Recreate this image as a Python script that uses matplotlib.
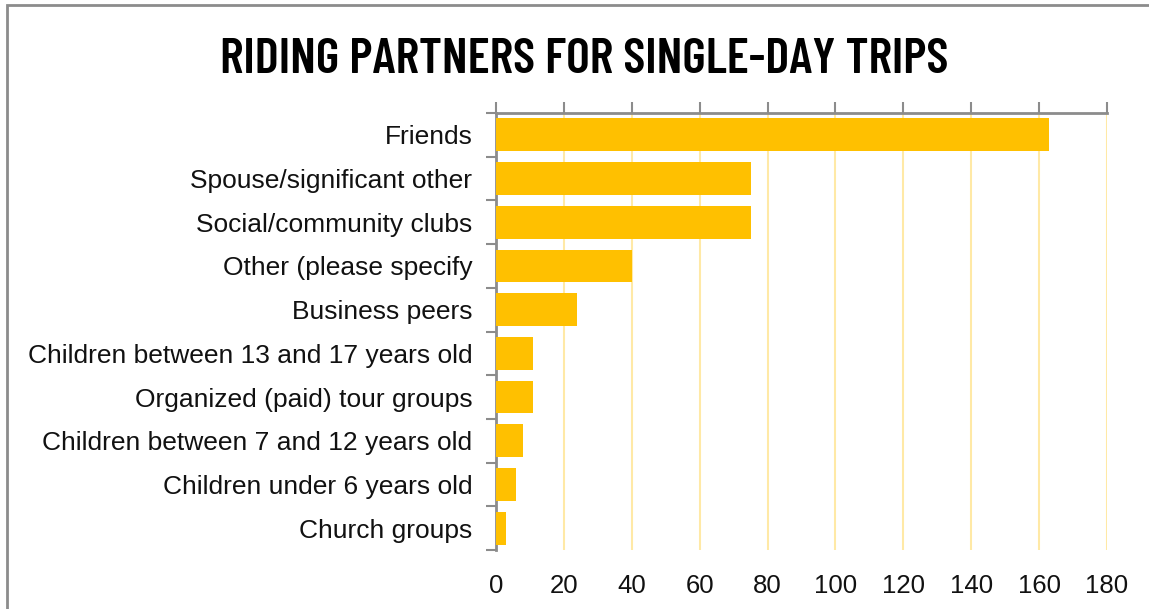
import matplotlib
matplotlib.use("Agg")
import matplotlib.pyplot as plt
from matplotlib import font_manager
from matplotlib.patches import Rectangle

categories = [
    "Friends",
    "Spouse/significant other",
    "Social/community clubs",
    "Other (please specify",
    "Business peers",
    "Children between 13 and 17 years old",
    "Organized (paid) tour groups",
    "Children between 7 and 12 years old",
    "Children under 6 years old",
    "Church groups",
]
counts = [163, 75, 75, 40, 24, 11, 11, 8, 6, 3]
x_ticks = [0, 20, 40, 60, 80, 100, 120, 140, 160, 180]
title = "RIDING PARTNERS FOR SINGLE-DAY TRIPS"

installed = {f.name for f in font_manager.fontManager.ttflist}


def pick(*names):
    for name in names:
        if name in installed:
            return name
    return "DejaVu Sans"


body_font = pick("Liberation Sans", "Arimo", "DejaVu Sans")
title_font = pick("Barlow Condensed", "PT Sans Narrow", "Roboto Condensed", "DejaVu Sans")

W, H = 1149, 609
fig = plt.figure(figsize=(W / 100, H / 100), dpi=100)
fig.patch.set_facecolor("white")

# outer frame
fig.add_artist(Rectangle((7 / W, -0.05), 1.2, (H - 5) / H + 0.05,
                         transform=fig.transFigure, fill=False,
                         edgecolor="#8c8c8c", linewidth=2))

left, right, top, bottom = 496, 1107, 113, 550
ax = fig.add_axes([left / W, 1 - bottom / H, (right - left) / W, (bottom - top) / H])

n = len(categories)
ypos = list(range(n))
ax.barh(ypos, counts, height=0.75, color="#FFC000", zorder=3)
ax.set_ylim(n - 0.5, -0.5)
ax.set_xlim(0, 180)

ax.set_xticks(x_ticks)
ax.set_xticklabels([str(t) for t in x_ticks], fontsize=18.5, family=body_font,
                   color="#111111")
ax.tick_params(axis="x", which="major", top=True, bottom=False,
               labeltop=False, labelbottom=True, direction="out",
               length=8, width=1.5, color="#8c8c8c", pad=9)

ax.set_yticks(ypos)
ax.set_yticklabels(categories, fontsize=19, family=body_font, color="#111111")
ax.set_yticks([i - 0.5 for i in range(n + 1)], minor=True)
ax.tick_params(axis="y", which="major", length=0, pad=17)
ax.tick_params(axis="y", which="minor", length=7, width=1.5, color="#8c8c8c",
               direction="out")

ax.grid(axis="x", color="#FFE9A6", linewidth=1.5, zorder=0)
ax.set_axisbelow(True)

for side in ["bottom", "right"]:
    ax.spines[side].set_visible(False)
for side in ["top", "left"]:
    ax.spines[side].set_color("#8c8c8c")
    ax.spines[side].set_linewidth(2)

fig.text(584 / W, 1 - 73 / H, title, ha="center", va="baseline",
         fontsize=36.5, fontweight=600, family=title_font, color="black")

fig.savefig("out.png", dpi=100)
